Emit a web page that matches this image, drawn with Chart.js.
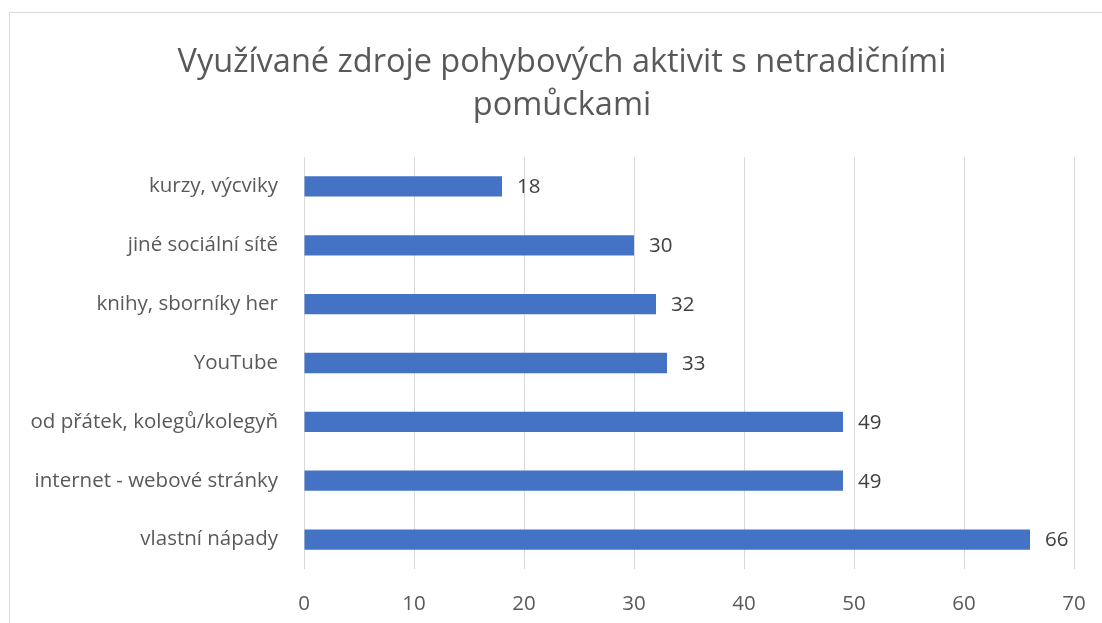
<!DOCTYPE html>
<html>
<head>
<meta charset="utf-8">
<script src="https://cdn.jsdelivr.net/npm/chart.js@4"></script>
<style>
    body { margin: 0; background: #fff; overflow: hidden; }
    #wrap { position: relative; width: 1102px; height: 623px; }
    #frame { position: absolute; left: 9px; top: 12px; width: 1200px; height: 700px; border: 1px solid #d9d9d9; }
    #title { position: absolute; left: 262px; width: 600px; top: 38px; text-align: center;
             font: 32.5px/43px "Open Sans", Lato, sans-serif; color: #595959; white-space: nowrap; }
    #title div { margin-left: -200px; margin-right: -200px; }
    canvas { position: absolute; left: 0; top: 0; }
</style>
</head>
<body>
<div id="wrap">
    <div id="frame"></div>
    <canvas id="chart" width="1102" height="623"></canvas>
    <div id="title"></div>
</div>
<script>
// donnees du graphe
const categories = ['kurzy, výcviky', 'jiné sociální sítě', 'knihy, sborníky her', 'YouTube',
    'od přátek, kolegů/kolegyň', 'internet - webové stránky', 'vlastní nápady'];
const values = [18, 30, 32, 33, 49, 49, 66];
const xTicks = [0, 10, 20, 30, 40, 50, 60, 70];
const titleLines = ['Využívané zdroje pohybových aktivit s netradičními', 'pomůckami'];

const textColor = '#595959';
const fontFamily = '"Open Sans", Lato, sans-serif';

// titre (centre un peu decale vers la droite comme dans l'original)
const titleBox = document.getElementById('title');
titleLines.forEach(line => {
    const d = document.createElement('div');
    d.textContent = line;
    titleBox.appendChild(d);
});

// etiquettes au bout des barres
const valueLabels = {
    id: 'valueLabels',
    afterDatasetsDraw(chart) {
        const ctx = chart.ctx;
        const meta = chart.getDatasetMeta(0);
        ctx.save();
        ctx.font = '20.5px ' + fontFamily;
        ctx.fillStyle = '#404040';
        ctx.textAlign = 'left';
        ctx.textBaseline = 'middle';
        meta.data.forEach((bar, i) => {
            ctx.fillText(values[i], bar.x + 15, bar.y + 1);
        });
        ctx.restore();
    }
};

new Chart(document.getElementById('chart'), {
    type: 'bar',
    data: {
        labels: categories,
        datasets: [{
            data: values,
            backgroundColor: '#4472C4',
            categoryPercentage: 1,
            barPercentage: 0.345
        }]
    },
    plugins: [valueLabels],
    options: {
        indexAxis: 'y',
        responsive: false,
        animation: false,
        layout: { padding: { left: 10, right: 28, top: 157, bottom: 0 } },
        plugins: {
            legend: { display: false },
            tooltip: { enabled: false },
            title: { display: false }
        },
        scales: {
            x: {
                min: 0,
                max: 70,
                afterBuildTicks: (scale) => { scale.ticks = xTicks.map(v => ({ value: v })); },
                afterFit: (scale) => {
                    scale.height = 54;
                    scale.paddingLeft = 0;
                    scale.paddingRight = 0;
                },
                grid: { color: '#d9d9d9', drawTicks: false },
                border: { display: false },
                ticks: { color: textColor, padding: 23, font: { family: fontFamily, size: 20.5 } }
            },
            y: {
                afterFit: (scale) => { scale.width = 294; },
                grid: { display: false },
                border: { display: false },
                ticks: { color: textColor, padding: 18, font: { family: fontFamily, size: 20.5 } }
            }
        }
    }
});
</script>
</body>
</html>
